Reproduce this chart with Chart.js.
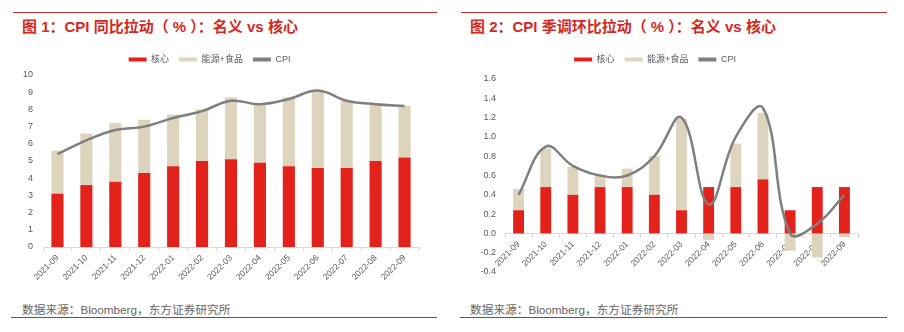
<!DOCTYPE html>
<html>
<head>
<meta charset="utf-8">
<script src="https://cdn.jsdelivr.net/npm/chart.js@4.4.1/dist/chart.umd.min.js"></script>
<style>
  body { margin: 0; width: 904px; height: 332px; background: #fff; position: relative; overflow: hidden;
         font-family: "Liberation Sans", "Noto Sans CJK SC", sans-serif; }
  .rule { position: absolute; height: 1px; background: #c0302a; }
  .title { position: absolute; top: 15px; font-size: 15px; font-weight: bold; color: #d6281e; white-space: nowrap; }
  .src { position: absolute; top: 300px; font-size: 11.7px; color: #666; white-space: nowrap; }
  .box { position: absolute; top: 45px; }
</style>
</head>
<body>
<div class="rule" style="left:13px;top:12px;width:424px"></div>
<div class="rule" style="left:461px;top:12px;width:426px"></div>
<div class="title" style="left:22px">图 1：CPI 同比拉动（ % ）：名义 vs 核心</div>
<div class="title" style="left:470px">图 2：CPI 季调环比拉动（ % ）：名义 vs 核心</div>

<div class="box" style="left:0;width:440px;height:252px"><canvas id="yoy"></canvas></div>
<div class="box" style="left:452px;width:440px;height:240px"><canvas id="mom"></canvas></div>

<div class="src" style="left:22px">数据来源：Bloomberg，东方证券研究所</div>
<div class="src" style="left:470px">数据来源：Bloomberg，东方证券研究所</div>
<div class="rule" style="left:11px;top:317px;width:426px"></div>
<div class="rule" style="left:460px;top:317px;width:427px"></div>

<script>
const months = ['2021-09', '2021-10', '2021-11', '2021-12', '2022-01', '2022-02', '2022-03',
                '2022-04', '2022-05', '2022-06', '2022-07', '2022-08', '2022-09'];

// 同比拉动
const yoyCore = [3.1, 3.6, 3.8, 4.3, 4.7, 5.0, 5.1, 4.9, 4.7, 4.6, 4.6, 5.0, 5.2];
const yoyEnergyFood = [2.5, 3.0, 3.4, 3.1, 3.0, 3.0, 3.6, 3.4, 4.0, 4.5, 3.9, 3.3, 3.0];
const yoyCpi = [5.4, 6.2, 6.8, 7.0, 7.5, 7.9, 8.5, 8.3, 8.6, 9.1, 8.5, 8.3, 8.2];

// 季调环比拉动
const momCore = [0.24, 0.48, 0.40, 0.48, 0.48, 0.40, 0.24, 0.48, 0.48, 0.56, 0.24, 0.48, 0.48];
const momEnergyFood = [0.22, 0.40, 0.29, 0.13, 0.19, 0.40, 0.95, -0.07, 0.45, 0.69, -0.18, -0.25, -0.04];
const momCpi = [0.4, 0.9, 0.7, 0.6, 0.6, 0.8, 1.2, 0.3, 1.0, 1.3, 0.0, 0.1, 0.4];

const RED = '#e2221b';
const BEIGE = '#ddd4bd';
const GREY = '#7f7f7f';
const TXT = '#595959';
const AXIS = '#d9d9d9';
const FONT = '"Liberation Sans", "Noto Sans CJK SC", sans-serif';

// make room between legend and plot
function legendGap(gap) {
  return {
    id: 'legendGap',
    beforeInit(chart) {
      const fit = chart.legend.fit;
      chart.legend.fit = function () {
        fit.bind(chart.legend)();
        this.height += gap;
      };
    }
  };
}

function legendItems(chart) {
  const items = Chart.defaults.plugins.legend.labels.generateLabels(chart);
  items.forEach(it => { it.lineWidth = 0; });
  return items.sort((a, b) => a.datasetIndex - b.datasetIndex);
}

function makeChart(id, core, energy, cpi, opt) {
  return new Chart(document.getElementById(id), {
    type: 'bar',
    data: {
      labels: months,
      datasets: [
        { label: '核心', data: core, backgroundColor: RED, stack: 'bars', order: 1,
          categoryPercentage: opt.barPct, barPercentage: 1 },
        { label: '能源+食品', data: energy, backgroundColor: BEIGE, stack: 'bars', order: 2,
          categoryPercentage: opt.barPct, barPercentage: 1 },
        { label: 'CPI', type: 'line', data: cpi, stack: 'line', order: 0,
          borderColor: GREY, backgroundColor: GREY, borderWidth: 2.5,
          pointRadius: 0, tension: 0.4 }
      ]
    },
    options: {
      responsive: true,
      maintainAspectRatio: false,
      animation: false,
      layout: { padding: opt.padding },
      plugins: {
        legend: {
          position: 'top',
          labels: {
            boxWidth: 18, boxHeight: 4, padding: 10, color: TXT,
            font: { size: 9, family: FONT },
            generateLabels: legendItems
          }
        },
        tooltip: { enabled: false }
      },
      scales: {
        x: {
          stacked: true,
          position: opt.xPos,
          z: 1,
          grid: { display: true, drawOnChartArea: false, offset: true, tickLength: 4, color: AXIS },
          border: { color: AXIS },
          ticks: { color: TXT, font: { size: 8.5, family: FONT }, minRotation: 45, maxRotation: 45, padding: 2 },
          afterFit: opt.xFit
        },
        y: {
          stacked: true,
          min: opt.min, max: opt.max,
          grid: { display: false },
          border: { display: false },
          ticks: { stepSize: opt.step, color: TXT, font: { size: 9, family: FONT }, padding: opt.tickPad,
                   callback: opt.fmt },
          afterFit: s => { s.width = opt.yWidth; }
        }
      }
    },
    plugins: [legendGap(opt.gap)]
  });
}

makeChart('yoy', yoyCore, yoyEnergyFood, yoyCpi, {
  barPct: 0.42, min: 0, max: 10, step: 1, fmt: v => v, tickPad: 2,
  yWidth: 43, padding: { top: 0, right: 21, bottom: 0, left: 0 }, gap: 1,
  xPos: 'bottom', xFit: s => { s.height = 50; }
});

makeChart('mom', momCore, momEnergyFood, momCpi, {
  barPct: 0.40, min: -0.4, max: 1.6, step: 0.2, fmt: v => v.toFixed(1), tickPad: 1,
  yWidth: 53, padding: { top: 0, right: 34, bottom: 13, left: 0 }, gap: 5,
  xPos: { y: 0 }, xFit: undefined
});
</script>
</body>
</html>
